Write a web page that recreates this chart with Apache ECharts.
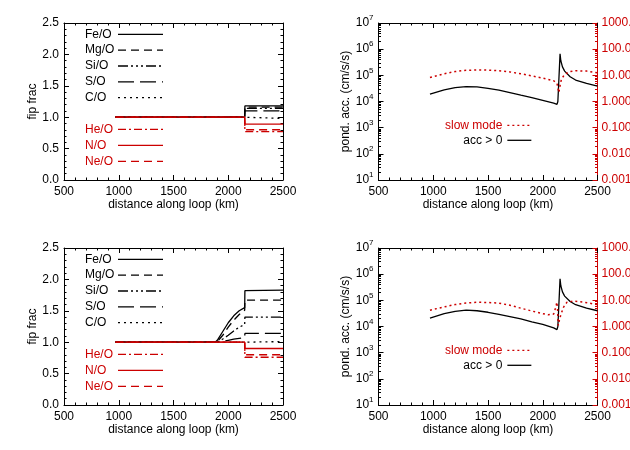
<!DOCTYPE html>
<html lang="en">
  <head>
    <meta charset="UTF-8" />
    <title>fip frac / pond. acc.</title>
    <style>
      html, body { margin: 0; padding: 0; background: #fff; }
    </style>
  </head>
  <body>
    <div id="main" style="width: 630px; height: 450px"></div>

    <script src="https://cdn.jsdelivr.net/npm/echarts@6.0.0/dist/echarts.min.js"></script>
    <script>
      // ===== data =====
      // top-left panel: fip fractions, step at the loop top
      const fipDistA = [970, 2150, 2152, 2500]
      const feA = [1.0, 1.0, 1.18, 1.18]
      const mgA = [1.0, 1.0, 1.16, 1.16]
      const siA = [1.0, 1.0, 1.14, 1.14]
      const sA = [1.0, 1.0, 1.10, 1.10]
      const cA = [1.0, 1.0, 0.98, 0.98]
      const heA = [1.0, 1.0, 0.77, 0.77]
      const nA = [1.0, 1.0, 0.89, 0.89]
      const neA = [1.0, 1.0, 0.80, 0.80]

      // bottom-left panel
      const fipDistB = [970, 1880, 1900, 1950, 2000, 2050, 2100, 2150, 2152, 2500]
      const feB = [1.0, 1.0, 1.03, 1.17, 1.31, 1.42, 1.50, 1.55, 1.82, 1.83]
      const mgB = [1.0, 1.0, 1.01, 1.11, 1.24, 1.35, 1.44, 1.51, 1.67, 1.67]
      const siB = [1.0, 1.0, 1.0, 1.05, 1.11, 1.18, 1.24, 1.28, 1.40, 1.40]
      const sB = [1.0, 1.0, 1.0, 1.01, 1.03, 1.05, 1.06, 1.07, 1.14, 1.14]
      const cB = [1.0, 1.0, 1.0, 1.0, 1.0, 1.0, 1.0, 1.0, 1.01, 1.01]
      const heB = [1.0, 1.0, 1.0, 1.0, 1.0, 1.0, 1.0, 1.0, 0.76, 0.76]
      const nB = [1.0, 1.0, 1.0, 1.0, 1.0, 1.0, 1.0, 1.0, 0.90, 0.90]
      const neB = [1.0, 1.0, 1.0, 1.0, 1.0, 1.0, 1.0, 1.0, 0.80, 0.80]

      // top-right panel: ponderomotive acceleration (cm/s/s) and slow mode
      const accDistA = [970, 1100, 1200, 1300, 1400, 1500, 1600, 1700, 1800, 1900, 2000, 2100, 2130, 2138, 2158, 2165, 2180, 2200, 2250, 2300, 2400, 2500]
      const accA = [1.9e4, 2.8e4, 3.4e4, 3.7e4, 3.6e4, 3.2e4, 2.7e4, 2.2e4, 1.75e4, 1.4e4, 1.1e4, 8.6e3, 7.8e3, 1.0e4, 6.6e5, 3.6e5, 2.1e5, 1.45e5, 8.8e4, 6.6e4, 4.9e4, 3.9e4]
      const slowDistA = [970, 1100, 1200, 1300, 1400, 1500, 1600, 1700, 1800, 1900, 2000, 2100, 2130, 2140, 2148, 2155, 2170, 2200, 2250, 2300, 2400, 2500]
      const slowA = [8.3, 11.5, 14, 15.5, 16, 15.8, 15, 13.5, 11.5, 9.5, 7.8, 6.2, 5.0, 3.0, 2.2, 3.5, 7, 11, 14, 15, 14.5, 12.5]

      // bottom-right panel
      const accDistB = [970, 1100, 1200, 1300, 1400, 1500, 1600, 1700, 1800, 1900, 2000, 2100, 2130, 2138, 2158, 2165, 2180, 2200, 2250, 2300, 2400, 2500]
      const accB = [2.1e4, 3.1e4, 3.8e4, 4.2e4, 4.0e4, 3.5e4, 2.9e4, 2.4e4, 1.95e4, 1.5e4, 1.2e4, 8.8e3, 7.6e3, 1.0e4, 6.6e5, 3.6e5, 2.1e5, 1.45e5, 9e4, 6.8e4, 5.0e4, 4.0e4]
      const slowDistB = [970, 1100, 1200, 1300, 1400, 1500, 1600, 1700, 1800, 1900, 2000, 2050, 2100, 2115, 2122, 2128, 2135, 2142, 2150, 2165, 2190, 2220, 2280, 2370, 2500]
      const slowB = [4.2, 5.6, 6.9, 7.9, 8.4, 8.3, 7.8, 6.5, 5.0, 3.9, 3.1, 2.8, 3.0, 3.4, 6.0, 8.5, 5.0, 1.1, 1.6, 2.8, 5.5, 8.4, 9.4, 8.5, 6.9]

      const blackNames = ['Fe/O', 'Mg/O', 'Si/O', 'S/O', 'C/O']
      const redNames = ['He/O', 'N/O', 'Ne/O']
      // =====

      const BLACK = '#000'
      const RED = '#cc0000'
      const FONT = 'Liberation Sans'

      const lineTypes = {
        'Fe/O': 'solid',
        'Mg/O': [8, 5],
        'Si/O': [10, 3, 2, 3, 2, 3, 2, 3],
        'S/O': [16, 6],
        'C/O': [2, 4],
        'He/O': [8, 3, 2, 3],
        'N/O': 'solid',
        'Ne/O': [8, 5]
      }

      const pairs = (xs, ys) => xs.map((x, i) => [x, ys[i]])

      // minor ticks of a log axis, placed on a linear axis running in log10 units
      const logMinor = []
      for (let d = 1; d < 7; d++) {
        for (let k = 2; k <= 9; k++) logMinor.push(d + Math.log10(k))
      }

      const txt = { color: BLACK, fontSize: 12, fontFamily: FONT }

      function distAxis(gridIndex, position) {
        const bottom = position === 'bottom'
        return {
          type: 'value', gridIndex, position, min: 500, max: 2500, interval: 500,
          name: bottom ? 'distance along loop (km)' : '',
          nameLocation: 'middle', nameGap: 18, nameTextStyle: txt,
          axisLine: { show: true, onZero: false, lineStyle: { color: BLACK, width: 1 } },
          axisTick: { show: true, inside: true, length: 5, lineStyle: { color: BLACK } },
          minorTick: { show: true, splitNumber: 5, length: 2.5, lineStyle: { color: BLACK } },
          axisLabel: Object.assign({ show: bottom, margin: 6, formatter: v => String(v) }, txt),
          splitLine: { show: false }
        }
      }

      function fipAxis(gridIndex, position) {
        const left = position === 'left'
        return {
          type: 'value', gridIndex, position, min: 0, max: 2.5, interval: 0.5,
          name: left ? 'fip frac' : '',
          nameLocation: 'middle', nameGap: 25, nameTextStyle: txt,
          axisLine: { show: true, onZero: false, lineStyle: { color: BLACK, width: 1 } },
          axisTick: { show: true, inside: true, length: 5, lineStyle: { color: BLACK } },
          minorTick: { show: true, splitNumber: 5, length: 2.5, lineStyle: { color: BLACK } },
          axisLabel: Object.assign({ show: left, margin: 5, formatter: v => v.toFixed(1) }, txt),
          splitLine: { show: false }
        }
      }

      function accAxis(gridIndex) {
        return {
          type: 'log', logBase: 10, gridIndex, position: 'left', min: 10, max: 1e7,
          name: 'pond. acc. (cm/s/s)',
          nameLocation: 'middle', nameGap: 24, nameTextStyle: txt,
          axisLine: { show: true, onZero: false, lineStyle: { color: BLACK, width: 1 } },
          axisTick: { show: true, inside: true, length: 5, lineStyle: { color: BLACK } },
          axisLabel: {
            margin: 5,
            formatter: v => '{b|10}{e|' + Math.round(Math.log10(v)) + '}',
            rich: {
              b: { color: BLACK, fontSize: 12, fontFamily: FONT, lineHeight: 18 },
              e: { color: BLACK, fontSize: 8, fontFamily: FONT, lineHeight: 8, verticalAlign: 'top' }
            }
          },
          splitLine: { show: false }
        }
      }

      function slowAxis(gridIndex) {
        return {
          type: 'log', logBase: 10, gridIndex, position: 'right', min: 0.001, max: 1000,
          axisLine: { show: true, onZero: false, lineStyle: { color: RED, width: 1 } },
          axisTick: { show: true, inside: true, length: 5, lineStyle: { color: RED } },
          axisLabel: { margin: 4, color: RED, fontSize: 12, fontFamily: FONT, formatter: v => v.toFixed(3) },
          splitLine: { show: false }
        }
      }

      function minorAxis(gridIndex, position, color) {
        return {
          type: 'value', gridIndex, position, min: 1, max: 7,
          axisLine: { show: false, onZero: false },
          axisTick: { show: true, inside: true, length: 2.5, lineStyle: { color }, customValues: logMinor },
          axisLabel: { show: false },
          splitLine: { show: false }
        }
      }

      function fipSeries(name, xs, ys, xi, yi) {
        const color = blackNames.includes(name) ? BLACK : RED
        return {
          name, type: 'line', xAxisIndex: xi, yAxisIndex: yi,
          data: pairs(xs, ys), symbol: 'none', silent: true,
          lineStyle: { color, width: 1.3, type: lineTypes[name] },
          itemStyle: { color }
        }
      }

      function accSeries(xs, ys, xi, yi) {
        return {
          name: 'acc > 0', type: 'line', xAxisIndex: xi, yAxisIndex: yi,
          data: pairs(xs, ys), symbol: 'none', silent: true,
          lineStyle: { color: BLACK, width: 1.3 }, itemStyle: { color: BLACK }
        }
      }

      function slowSeries(xs, ys, xi, yi) {
        return {
          name: 'slow mode', type: 'line', xAxisIndex: xi, yAxisIndex: yi,
          data: pairs(xs, ys), symbol: 'none', silent: true,
          lineStyle: { color: RED, width: 1.5, type: [2, 3] }, itemStyle: { color: RED }
        }
      }

      function fipLegend(names, color, top, gap) {
        return {
          orient: 'vertical', align: 'right', left: 85, top, padding: 0,
          itemWidth: 45, itemHeight: 12, itemGap: gap, selectedMode: false,
          itemStyle: { opacity: 0 }, lineStyle: { width: 1.3 },
          formatter: '{a|{name}}',
          textStyle: {
            fontSize: 12, fontFamily: FONT, lineHeight: 12,
            rich: { a: { width: 28, align: 'left', fontSize: 12, fontFamily: FONT, lineHeight: 12 } }
          },
          data: names.map(n => ({ name: n, textStyle: { color } }))
        }
      }

      function accLegend(top) {
        return {
          orient: 'vertical', align: 'right', right: 98, top, padding: 0,
          itemWidth: 24, itemHeight: 10, itemGap: 3, selectedMode: false,
          itemStyle: { opacity: 0 }, lineStyle: { width: 1.3 },
          textStyle: { fontSize: 12, fontFamily: FONT, lineHeight: 10 },
          data: [
            { name: 'slow mode', textStyle: { color: RED } },
            { name: 'acc > 0', textStyle: { color: BLACK } }
          ]
        }
      }

      const myChart = echarts.init(document.getElementById('main'), null, { renderer: 'canvas' })

      const fipA = [feA, mgA, siA, sA, cA, heA, nA, neA]
      const fipB = [feB, mgB, siB, sB, cB, heB, nB, neB]
      const allNames = blackNames.concat(redNames)

      const gridBox = (left, top) => ({ left, top, width: 219, height: 157, outerBoundsMode: 'none', containLabel: false })

      const option = {
        animation: false,
        backgroundColor: '#fff',
        textStyle: { fontFamily: FONT },
        grid: [gridBox(64, 23), gridBox(378.5, 23), gridBox(64, 248), gridBox(378.5, 248)],
        xAxis: [
          distAxis(0, 'bottom'), distAxis(0, 'top'),
          distAxis(1, 'bottom'), distAxis(1, 'top'),
          distAxis(2, 'bottom'), distAxis(2, 'top'),
          distAxis(3, 'bottom'), distAxis(3, 'top')
        ],
        yAxis: [
          fipAxis(0, 'left'), fipAxis(0, 'right'),
          accAxis(1), minorAxis(1, 'left', BLACK), slowAxis(1), minorAxis(1, 'right', RED),
          fipAxis(2, 'left'), fipAxis(2, 'right'),
          accAxis(3), minorAxis(3, 'left', BLACK), slowAxis(3), minorAxis(3, 'right', RED)
        ],
        legend: [
          fipLegend(blackNames, BLACK, 28.3, 3.85),
          fipLegend(redNames, RED, 123.3, 4),
          fipLegend(blackNames, BLACK, 253.3, 3.85),
          fipLegend(redNames, RED, 348.3, 4),
          accLegend(119.3),
          accLegend(344.3)
        ],
        series: [].concat(
          allNames.map((n, i) => fipSeries(n, fipDistA, fipA[i], 0, 0)),
          [accSeries(accDistA, accA, 2, 2), slowSeries(slowDistA, slowA, 2, 4)],
          allNames.map((n, i) => fipSeries(n, fipDistB, fipB[i], 4, 6)),
          [accSeries(accDistB, accB, 6, 8), slowSeries(slowDistB, slowB, 6, 10)]
        )
      }

      myChart.setOption(option)
    </script>
  </body>
</html>
